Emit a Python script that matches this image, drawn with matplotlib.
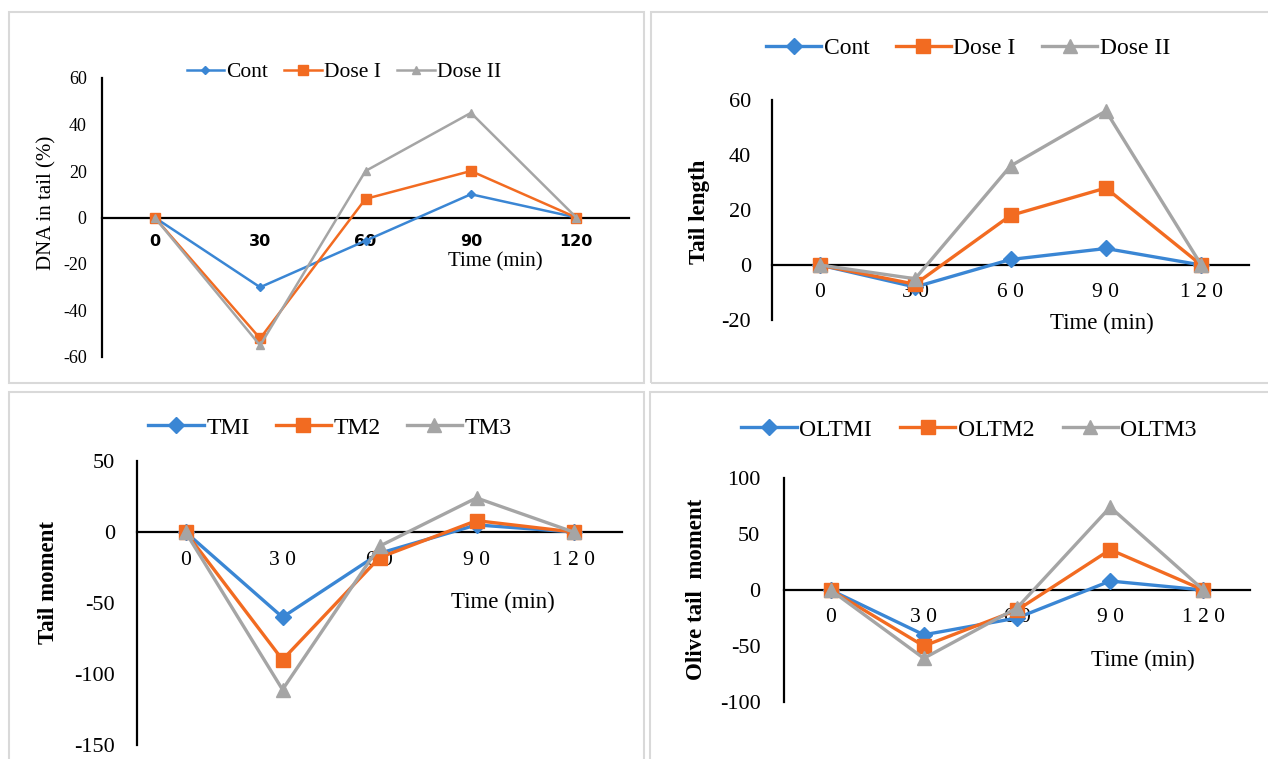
import numpy as np
import matplotlib
matplotlib.use("Agg")
import matplotlib.pyplot as plt
from matplotlib.patches import Rectangle

plt.rcParams['font.family'] = ['Liberation Serif', 'DejaVu Serif']

# data
times = ["0", "30", "60", "90", "120"]
times_spaced = ["0", "3 0", "6 0", "9 0", "1 2 0"]

dna_names = ["Cont", "Dose I", "Dose II"]
dna_cont = [0, -30, -10, 10, 0]
dna_dose1 = [0, -52, 8, 20, 0]
dna_dose2 = [0, -55, 20, 45, 0]

tl_names = ["Cont", "Dose I", "Dose II"]
tl_cont = [0, -8, 2, 6, 0]
tl_dose1 = [0, -7, 18, 28, 0]
tl_dose2 = [0, -5, 36, 56, 0]

tm_names = ["TMI", "TM2", "TM3"]
tm1 = [0, -60, -15, 5, 0]
tm2 = [0, -90, -18, 8, 0]
tm3 = [0, -111, -10, 24, 0]

ol_names = ["OLTMI", "OLTM2", "OLTM3"]
oltm1 = [0, -40, -25, 8, 0]
oltm2 = [0, -50, -18, 36, 0]
oltm3 = [0, -61, -16, 74, 0]

colors = ["#3a86d4", "#f26b21", "#a5a5a5"]
markers = ["D", "s", "^"]

W, H = 1268, 759
fig = plt.figure(figsize=(W / 100, H / 100), dpi=100)


def rect(l, t, r, b):
    return [l / W, 1 - b / H, (r - l) / W, (b - t) / H]


def fpt(x, y):
    return x / W, 1 - y / H


# panel frames
for l, t, r, b in [(9, 12, 644, 383), (651, 12, 1275, 383),
                   (9, 392, 644, 770), (650, 392, 1275, 770)]:
    fig.add_artist(Rectangle((l / W, 1 - b / H), (r - l) / W, (b - t) / H,
                             transform=fig.transFigure, fill=False,
                             edgecolor="#d9d9d9", lw=1.5))


def panel(box, series, names, ylim, yticks, xlabels, ylabel, ylab_xy,
          leg_xy, time_xy, lw, msizes, sizes, xpad, ypad, leg_opts,
          xfont=None, ylab_weight="bold"):
    fs_y, fs_x, fs_lab, fs_leg = sizes
    ax = fig.add_axes(rect(*box))
    for s in ["top", "right"]:
        ax.spines[s].set_visible(False)
    ax.spines["bottom"].set_position(("data", 0))
    ax.spines["bottom"].set_linewidth(1.6)
    ax.spines["left"].set_linewidth(1.6)
    x = np.arange(len(xlabels))
    for vals, name, c, m, ms in zip(series, names, colors, markers, msizes):
        ax.plot(x, vals, color=c, marker=m, ms=ms, lw=lw, label=name,
                mec=c, mfc=c, zorder=3)
    ax.set_xlim(-0.5, len(xlabels) - 0.5)
    ax.set_ylim(*ylim)
    ax.set_yticks(yticks)
    ax.set_yticklabels([str(v) for v in yticks], fontsize=fs_y)
    ax.set_xticks(x)
    xf = xfont or {}
    ax.set_xticklabels(xlabels, fontsize=fs_x,
                       fontweight=xf.get("weight", "normal"),
                       family=xf.get("family", ["Liberation Serif"]))
    ax.tick_params(axis="both", length=0)
    ax.tick_params(axis="x", pad=xpad)
    ax.tick_params(axis="y", pad=ypad)
    ax.patch.set_alpha(0)
    fx, fy = fpt(*ylab_xy)
    fig.text(fx, fy, ylabel, rotation=90, ha="center", va="center",
             fontsize=fs_lab, fontweight=ylab_weight)
    tx, ty = fpt(*time_xy)
    fig.text(tx, ty, "Time (min)", ha="center", va="center", fontsize=fs_lab)
    lx, ly = fpt(*leg_xy)
    ax.legend(loc="center", bbox_to_anchor=(lx, ly),
              bbox_transform=fig.transFigure, ncol=3, frameon=False,
              fontsize=fs_leg, handletextpad=0.1, **leg_opts)
    return ax


panel((102, 78, 629, 357), [dna_cont, dna_dose1, dna_dose2], dna_names,
      (-60, 60), [-60, -40, -20, 0, 20, 40, 60], times, "DNA in tail (%)",
      (47, 203), (344, 72), (495, 262), 1.8, [4, 7, 6],
      (13, 11.5, 15, 15.5), 12, 11,
      {"handlelength": 1.75, "columnspacing": 0.75},
      xfont={"weight": "bold", "family": ["DejaVu Sans"]},
      ylab_weight="normal")

panel((772, 100, 1249, 320), [tl_cont, tl_dose1, tl_dose2], tl_names,
      (-20, 60), [-20, 0, 20, 40, 60], times_spaced, "Tail length",
      (699, 212), (968, 48), (1102, 323), 2.4, [8, 10, 10],
      (16, 15.5, 16.5, 17), 13, 15,
      {"handlelength": 2.35, "columnspacing": 1.1})

panel((137, 461, 622, 745), [tm1, tm2, tm3], tm_names,
      (-150, 50), [-150, -100, -50, 0, 50], times_spaced, "Tail moment",
      (49, 583), (330, 428), (503, 602), 2.4, [8, 10, 10],
      (16, 15.5, 16.5, 17), 14, 16,
      {"handlelength": 2.35, "columnspacing": 1.1})

panel((784, 478, 1250, 702), [oltm1, oltm2, oltm3], ol_names,
      (-100, 100), [-100, -50, 0, 50, 100], times_spaced,
      "Olive tail  moment", (697, 589), (969, 430), (1143, 660), 2.4,
      [8, 10, 10], (16, 15.5, 16.5, 17), 13, 17,
      {"handlelength": 2.35, "columnspacing": 1.2})

fig.savefig("out.png", dpi=100)
